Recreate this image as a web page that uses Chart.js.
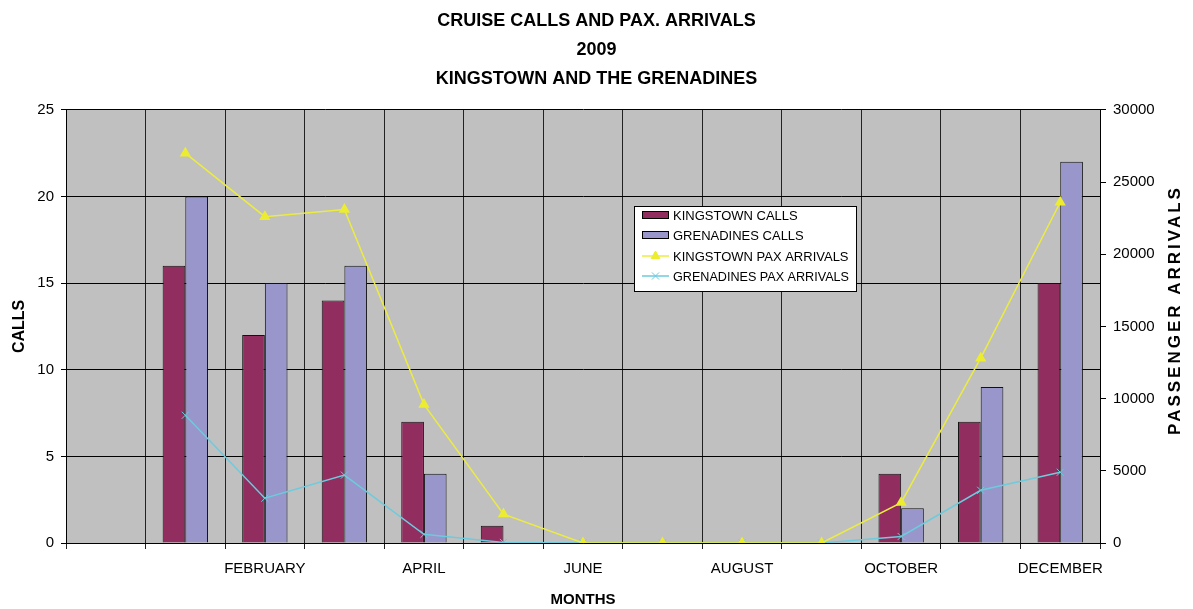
<!DOCTYPE html>
<html>
<head>
<meta charset="utf-8">
<title>Cruise calls and pax arrivals 2009</title>
<script src="https://cdn.jsdelivr.net/npm/chart.js@4.4.0/dist/chart.umd.min.js"></script>
<style>
    body { margin: 0; background: #fff; }
    #wrap { width: 1193px; height: 609px; }
</style>
</head>
<body>
<div id="wrap"><canvas id="cruise" width="1193" height="609"></canvas></div>
<script>
    "use strict";

    // first slot is left empty in the original chart
    var months = ["", "JANUARY", "FEBRUARY", "MARCH", "APRIL", "MAY", "JUNE",
        "JULY", "AUGUST", "SEPTEMBER", "OCTOBER", "NOVEMBER", "DECEMBER"];

    var kingstownCalls   = [null, 16, 12, 14, 7, 1, 0, 0, 0, 0, 4, 7, 15];
    var grenadinesCalls  = [null, 20, 15, 16, 4, 0, 0, 0, 0, 0, 2, 9, 22];
    var kingstownPax     = [null, 27000, 22600, 23100, 9600, 2000, 0, 0, 0, 0, 2800, 12800, 23600];
    var grenadinesPax    = [null, 8850, 3100, 4700, 600, 40, 0, 0, 0, 0, 450, 3650, 4900];

    var callTicks = [0, 5, 10, 15, 20, 25];
    var paxTicks  = [0, 5000, 10000, 15000, 20000, 25000, 30000];

    var FONT = "'Liberation Sans', Arial, sans-serif";
    Chart.defaults.font.family = FONT;
    Chart.defaults.color = "#000";

    // gray plot background
    var plotBg = {
        id: "plotBg",
        beforeDraw: function (chart) {
            var a = chart.chartArea, ctx = chart.ctx;
            ctx.save();
            ctx.fillStyle = "#c0c0c0";
            ctx.fillRect(a.left, a.top, a.right - a.left, a.bottom - a.top);
            ctx.restore();
        }
    };

    // right axis title reads bottom to top, and the boxed legend sits inside the plot
    var extras = {
        id: "extras",
        afterDraw: function (chart) {
            var ctx = chart.ctx;
            ctx.save();
            ctx.translate(1175, 310);
            ctx.rotate(-Math.PI / 2);
            ctx.font = "bold 17px " + FONT;
            ctx.letterSpacing = "3px";
            ctx.textAlign = "center";
            ctx.textBaseline = "middle";
            ctx.fillStyle = "#000";
            ctx.fillText("PASSENGER ARRIVALS", 0, 0);
            ctx.restore();

            // Legend
            var x = 634, y = 206, w = 222, h = 85;
            ctx.save();
            ctx.fillStyle = "#fff";
            ctx.fillRect(x, y, w, h);
            ctx.strokeStyle = "#000";
            ctx.lineWidth = 1;
            ctx.strokeRect(x + 0.5, y + 0.5, w, h);
            ctx.font = "13px " + FONT;
            ctx.textBaseline = "middle";
            var rows = [215, 235, 256, 276];
            chart.data.datasets.forEach(function (ds, i) {
                var ry = rows[i];
                if (ds.type === "line") {
                    ctx.strokeStyle = ds.borderColor;
                    ctx.lineWidth = 1.5;
                    ctx.beginPath();
                    ctx.moveTo(642, ry);
                    ctx.lineTo(669, ry);
                    ctx.stroke();
                    ctx.fillStyle = ds.pointBackgroundColor;
                    ctx.strokeStyle = ds.pointBorderColor;
                    ctx.lineWidth = 1;
                    Chart.helpers.drawPoint(ctx, {pointStyle: ds.pointStyle, radius: 5, borderWidth: 1}, 655.5, ry);
                } else {
                    ctx.fillStyle = ds.backgroundColor;
                    ctx.fillRect(642, ry - 4, 27, 8);
                    ctx.strokeStyle = "#000";
                    ctx.lineWidth = 1;
                    ctx.strokeRect(642.5, ry - 3.5, 26, 7);
                }
                ctx.fillStyle = "#000";
                ctx.fillText(ds.label, 673, ry + 1, 176);
            });
            ctx.restore();
        }
    };

    var ctx = document.getElementById("cruise").getContext("2d");
    var cruiseChart = new Chart(ctx, {
        type: "bar",
        data: {
            labels: months,
            datasets: [{
                label: "KINGSTOWN CALLS",
                data: kingstownCalls,
                backgroundColor: "#922d5f",
                borderColor: "#111",
                borderWidth: 1,
                yAxisID: "y",
                order: 2,
                categoryPercentage: 0.57,
                barPercentage: 1
            }, {
                label: "GRENADINES CALLS",
                data: grenadinesCalls,
                backgroundColor: "#9896ca",
                borderColor: "#111",
                borderWidth: 1,
                yAxisID: "y",
                order: 2,
                categoryPercentage: 0.57,
                barPercentage: 1
            }, {
                type: "line",
                label: "KINGSTOWN PAX ARRIVALS",
                data: kingstownPax,
                borderColor: "#ecec40",
                borderWidth: 1.5,
                pointStyle: "triangle",
                pointRadius: 5,
                pointBackgroundColor: "#ecec30",
                pointBorderColor: "#ecec30",
                tension: 0,
                yAxisID: "y1",
                order: 0
            }, {
                type: "line",
                label: "GRENADINES PAX ARRIVALS",
                data: grenadinesPax,
                borderColor: "#6ccbdc",
                borderWidth: 1.5,
                pointStyle: "crossRot",
                pointRadius: 5,
                pointBorderWidth: 1,
                pointBackgroundColor: "#6ccbdc",
                pointBorderColor: "#6ccbdc",
                tension: 0,
                yAxisID: "y1",
                order: 1
            }]
        },
        options: {
            responsive: false,
            animation: false,
            events: [],
            layout: { padding: 0 },
            plugins: {
                legend: { display: false },
                tooltip: { enabled: false },
                title: {
                    display: true,
                    text: ["CRUISE CALLS AND PAX. ARRIVALS", "2009", "KINGSTOWN AND THE GRENADINES"],
                    font: { size: 18, weight: "bold", lineHeight: 1.59 },
                    color: "#000",
                    padding: { top: 7, bottom: 17 }
                }
            },
            scales: {
                x: {
                    offset: true,
                    grid: { color: "#222", lineWidth: 1, tickLength: 6, offset: true },
                    border: { color: "#000" },
                    ticks: {
                        autoSkip: false,
                        maxRotation: 0,
                        padding: 11,
                        font: { size: 15 },
                        callback: function (val, i) {
                            return i % 2 === 0 ? this.getLabelForValue(val) : "";
                        }
                    },
                    title: {
                        display: true,
                        text: "MONTHS",
                        font: { size: 15, weight: "bold" },
                        padding: { top: 0, bottom: 0 }
                    },
                    afterFit: function (scale) { scale.height = 66; }
                },
                y: {
                    position: "left",
                    min: callTicks[0],
                    max: callTicks[callTicks.length - 1],
                    afterBuildTicks: function (scale) {
                        scale.ticks = callTicks.map(function (v) { return {value: v}; });
                    },
                    grid: { color: "#000", lineWidth: 1, tickLength: 5 },
                    border: { color: "#000" },
                    ticks: { padding: 7, font: { size: 15 } },
                    title: {
                        display: true,
                        text: "CALLS",
                        font: { size: 16, weight: "bold" },
                        padding: { top: 10, bottom: 0 }
                    },
                    afterFit: function (scale) { scale.width = 66; }
                },
                y1: {
                    position: "right",
                    min: paxTicks[0],
                    max: paxTicks[paxTicks.length - 1],
                    afterBuildTicks: function (scale) {
                        scale.ticks = paxTicks.map(function (v) { return {value: v}; });
                    },
                    grid: { drawOnChartArea: false, color: "#000", tickLength: 6 },
                    border: { color: "#000" },
                    ticks: {
                        padding: 7,
                        font: { size: 15 },
                        callback: function (val) { return String(val); }
                    },
                    afterFit: function (scale) { scale.width = 93; }
                }
            }
        },
        plugins: [plotBg, extras]
    });
</script>
</body>
</html>
